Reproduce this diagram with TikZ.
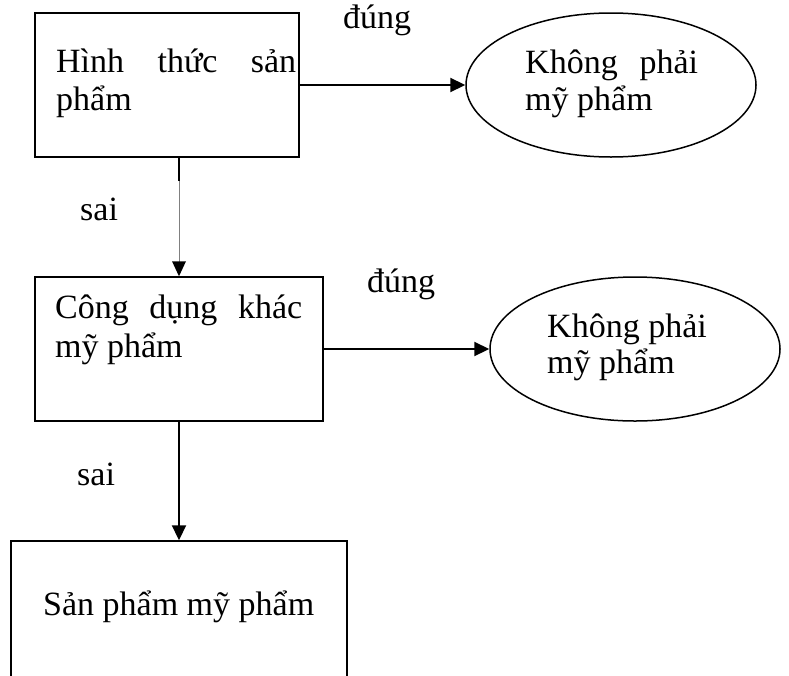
\documentclass[tikz,border=0pt]{standalone}
\usepackage{fontspec}
\setmainfont{Liberation Serif}
\usetikzlibrary{shapes.geometric,arrows.meta,calc}
\begin{document}
\begin{tikzpicture}[x=1pt,y=-1pt,
  boxnode/.style={draw,line width=1.5pt,rectangle,inner sep=0pt},
  ellnode/.style={draw,line width=1.5pt,ellipse,inner sep=0pt,minimum width=290pt,minimum height=144pt},
  txt/.style={anchor=base west,inner sep=0pt,font=\fontsize{34}{38}\selectfont},
  arr/.style={line width=2.2pt,-{Triangle[length=15pt,width=14pt]}}
]
\clip (0,0) rectangle (789,675);
\fill[white] (0,0) rectangle (789,675);
% boxes
\node[boxnode,minimum width=264pt,minimum height=144pt] (b1) at (167,85) {};
\node[boxnode,minimum width=288pt,minimum height=144pt] (b2) at (179,349) {};
\node[boxnode,minimum width=336pt,minimum height=200pt] (b3) at (179,641) {};
% ellipses
\node[ellnode] (e1) at (611,85) {};
\node[ellnode] (e2) at (635,349) {};
% texts
\node[txt] (t1a) at (56,72) {\makebox[240pt][s]{Hình thức sản}};
\node[txt] (t1b) at (56,110) {phẩm};
\node[txt] (t2a) at (55,318) {\makebox[247pt][s]{Công dụng khác}};
\node[txt] (t2b) at (55,357) {mỹ phẩm};
\node[txt] (t3) at (43,615) {Sản phẩm mỹ phẩm};
\node[txt] (te1a) at (525,73) {\makebox[173pt][s]{Không phải}};
\node[txt] (te1b) at (525,110) {mỹ phẩm};
\node[txt] (te2a) at (547,337) {Không phải};
\node[txt] (te2b) at (547,373) {mỹ phẩm};
% labels
\node[txt] (l1) at (343,28) {đúng};
\node[txt] (l2) at (367,292) {đúng};
\node[txt] (l3) at (80,220) {sai};
\node[txt] (l4) at (77,485) {sai};
% connectors
\draw[arr] (b1.east) -- (e1.west);
\draw[arr] (b2.east) -- (e2.west);
\coordinate (c1) at (b2.north |- b1.south);
\coordinate (c2) at ($(c1)+(0,23)$);
\coordinate (c3) at ($(b2.north)+(0,-14)$);
\draw[line width=2.2pt] (c1) -- (c2);
\draw[line width=0.7pt,gray] (c2) -- (c3);
\fill[black] (b2.north) -- ++(-7,-15) -- ++(14,0) -- cycle;
\draw[arr] (b2.south) -- (b3.north);
\end{tikzpicture}
\end{document}
